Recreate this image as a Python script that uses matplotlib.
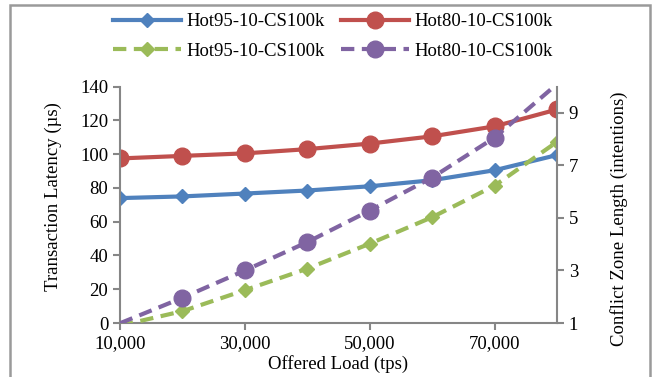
import numpy as np
import matplotlib
matplotlib.use('Agg')
import matplotlib.pyplot as plt
from matplotlib.patches import Rectangle

plt.rcParams['font.family'] = ['Liberation Serif', 'DejaVu Serif']
plt.rcParams['font.size'] = 13.5

# offered load (tps)
load = [10000, 20000, 30000, 40000, 50000, 60000, 70000, 80000]

# transaction latency (us), left axis
lat_hot95 = [74, 75, 76.7, 78.5, 81, 84.6, 90.5, 99.5]
lat_hot80 = [97.5, 99, 100.5, 103, 106.3, 110.6, 116.5, 126.5]

# conflict zone length (intentions), right axis
czl_hot95 = [0.9, 1.45, 2.25, 3.07, 4.02, 5.03, 6.23, 7.9]
czl_hot80 = [0.99, 1.96, 3.0, 4.08, 5.28, 6.54, 8.06, 10.1]

series_name_95 = 'Hot95-10-CS100k'
series_name_80 = 'Hot80-10-CS100k'

blue = '#4F81BD'
red = '#C0504D'
green = '#9BBB59'
purple = '#8064A2'
axis_gray = '#868686'

fig = plt.figure(figsize=(6.53, 3.77), dpi=100)
ax = fig.add_axes([120/653, 1-323/377, 437/653, 236.3/377])
ax2 = ax.twinx()

ax.plot(load, lat_hot95, color=blue, lw=3, marker='D', ms=7.5, label=series_name_95)
ax.plot(load, lat_hot80, color=red, lw=3, marker='o', ms=12, label=series_name_80)

r_lo, r_hi = 1, 10


def shown(vals):
    # Excel drops markers for points outside the axis range
    return [i for i, v in enumerate(vals) if r_lo <= v <= r_hi]


ax2.plot(load, czl_hot95, color=green, lw=3, ls=(0, (3.2, 1.8)), dash_capstyle='butt',
         marker='D', ms=7.5, markevery=shown(czl_hot95), label=series_name_95)
ax2.plot(load, czl_hot80, color=purple, lw=3, ls=(0, (3.2, 1.8)), dash_capstyle='butt',
         marker='o', ms=12, markevery=shown(czl_hot80), label=series_name_80)

ax.set_xlim(10000, 80000)
ax.set_ylim(0, 140)
ax.set_yticks(np.arange(0, 141, 20))
ax.set_xticks([10000, 30000, 50000, 70000])
ax.xaxis.set_major_formatter(matplotlib.ticker.FuncFormatter(lambda v, p: f'{int(v):,}'))
ax2.set_ylim(r_lo, r_hi)
ax2.set_yticks([1, 3, 5, 7, 9])

for a in (ax, ax2):
    a.spines['top'].set_visible(False)
    for s in a.spines.values():
        s.set_color(axis_gray)
        s.set_linewidth(1.5)
    a.tick_params(colors=axis_gray, labelcolor='black', width=1.5, length=5, direction='out')
ax.spines['right'].set_visible(False)
ax2.spines['left'].set_visible(False)
ax2.spines['bottom'].set_visible(False)

ax.set_xlabel('Offered Load (tps)', labelpad=2)
ax.set_ylabel('Transaction Latency (µs)')
ax.yaxis.set_label_coords(-0.133, 0.533)
ax2.set_ylabel('Conflict Zone Length (intentions)', rotation=90)
ax2.yaxis.set_label_coords(1.121, 0.44)

h1, l1 = ax.get_legend_handles_labels()
h2, l2 = ax2.get_legend_handles_labels()
fig.legend([h1[0], h2[0], h1[1], h2[1]], [l1[0], l2[0], l1[1], l2[1]],
           ncol=2, loc='upper center', bbox_to_anchor=(333/653, 1.0),
           frameon=False, handlelength=3.6, handletextpad=0.3,
           columnspacing=0.9, labelspacing=0.65, borderaxespad=0.3)

fig.patches.append(Rectangle((10/653, -0.1), 640/653, 1.1 - 5/377, transform=fig.transFigure,
                             fill=False, edgecolor='#9a9a9a', lw=1.8))

fig.savefig('out.png', dpi=100)
